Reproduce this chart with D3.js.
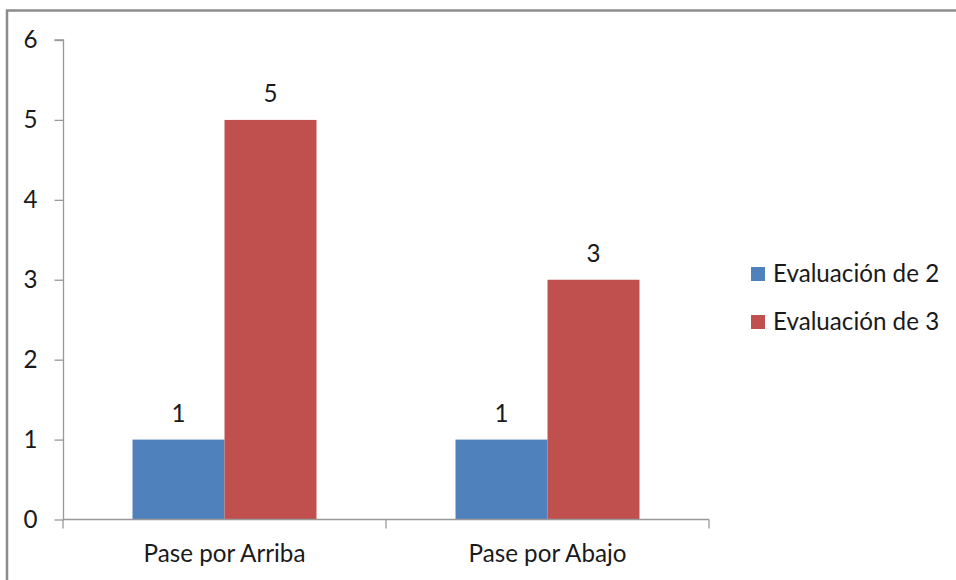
<!DOCTYPE html>
<html><head><meta charset="utf-8">
<script src="https://cdn.jsdelivr.net/npm/d3@7"></script>
<style>body{margin:0;background:#fff}svg{display:block}text{font-family:Lato,"Open Sans",sans-serif;fill:#1a1a1a}</style>
</head><body>
<svg id="c" width="956" height="580"></svg>
<script>
const categories = ["Pase por Arriba", "Pase por Abajo"];
const seriesNames = ["Evaluación de 2", "Evaluación de 3"];
const evaluacion2 = [1, 1];
const evaluacion3 = [5, 3];
const yTicks = [0, 1, 2, 3, 4, 5, 6];
const colors = ["#4F81BD", "#C0504D"];

const series = [evaluacion2, evaluacion3];
const svg = d3.select("#c");
const fs = 24.2;

// outer frame (top and left visible)
svg.append("rect").attr("x", 7).attr("y", 10.5).attr("width", 1000).attr("height", 1000)
  .attr("fill", "none").attr("stroke", "#8c8c8c").attr("stroke-width", 2.5);

const x0 = d3.scaleBand().domain(categories).range([63, 709]).paddingInner(0).paddingOuter(0);
const bw = x0.bandwidth();
const x1 = d3.scaleBand().domain(d3.range(series.length)).range([bw * 0.2152, bw * 0.7848]).padding(0);
const y = d3.scaleLinear().domain([0, 6]).range([519.5, 40]);

// y axis
const gy = svg.append("g").attr("transform", "translate(63.5,0)")
  .call(d3.axisLeft(y).tickValues(yTicks).tickSize(9).tickPadding(17).tickFormat(d3.format("d")));
gy.selectAll("path,line").attr("stroke", "#999").attr("stroke-width", 1.3);
gy.select(".domain").attr("d", "M-9," + y(6) + "H0V" + y(0));
gy.selectAll("text").attr("font-size", fs).style("font-family", "Lato,'Open Sans',sans-serif").attr("fill", "#1a1a1a");

// bars
categories.forEach((c, i) => {
  series.forEach((s, j) => {
    svg.append("rect")
      .attr("x", x0(c) + x1(j)).attr("y", y(s[i]))
      .attr("width", x1.bandwidth()).attr("height", y(0) - y(s[i]))
      .attr("fill", colors[j]);
    svg.append("text")
      .attr("x", x0(c) + x1(j) + x1.bandwidth() / 2).attr("y", y(s[i]) - 18)
      .attr("text-anchor", "middle").attr("font-size", fs).text(s[i]);
  });
});

// x axis
const gx = svg.append("g").attr("transform", "translate(0," + y(0) + ")")
  .call(d3.axisBottom(x0).tickSize(0).tickPadding(25));
gx.select(".domain").attr("stroke", "#999").attr("stroke-width", 1.3).attr("d", "M63,0H709");
gx.selectAll("text").attr("font-size", fs).style("font-family", "Lato,'Open Sans',sans-serif").attr("fill", "#1a1a1a");
const bounds = [x0.range()[0]].concat(categories.map(c => x0(c) + x0.bandwidth()));
gx.selectAll(".sep").data(bounds).enter().append("line")
  .attr("x1", d => d).attr("x2", d => d).attr("y1", 0).attr("y2", 9)
  .attr("stroke", "#999").attr("stroke-width", 1.3);

// legend
const lg = svg.append("g").attr("transform", "translate(751,267)");
seriesNames.forEach((n, j) => {
  lg.append("rect").attr("x", 0).attr("y", j * 48).attr("width", 14).attr("height", 14).attr("fill", colors[j]);
  lg.append("text").attr("x", 22).attr("y", j * 48 + 15).attr("font-size", fs).text(n);
});
</script>
</body></html>
